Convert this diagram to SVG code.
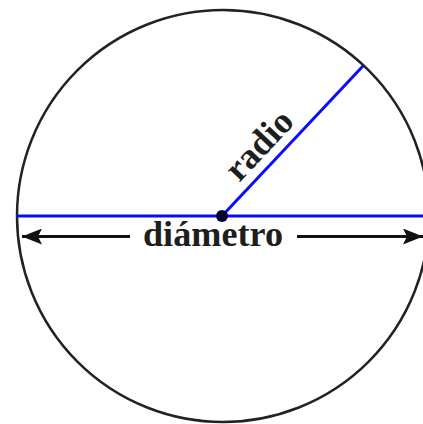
<svg xmlns="http://www.w3.org/2000/svg" width="423" height="424" viewBox="0 0 423 424">
<style>
.lbl{font-family:"Liberation Serif","Times New Roman",serif;font-weight:bold;font-size:35px;fill:#1e1e1e;}
.blue{stroke:#0a0aff;stroke-width:3;fill:none;}
.dim{stroke:#111;stroke-width:3;fill:none;}
</style>
<defs>
<marker id="ah" viewBox="0 0 20 16" refX="20" refY="8" markerWidth="20" markerHeight="16" markerUnits="userSpaceOnUse" orient="auto-start-reverse">
<path d="M0,0 L20,8 L0,16 L4,8 Z" fill="#111"/>
</marker>
</defs>
<rect width="423" height="424" fill="#fff"/>
<g id="circle">
<circle cx="223" cy="216" r="206" fill="none" stroke="#222" stroke-width="2.5"/>
</g>
<g id="connectors">
<line class="blue" x1="17" y1="216" x2="423" y2="216"/>
<line class="blue" x1="222" y1="216" x2="363" y2="66"/>
<line class="dim" x1="22" y1="236.5" x2="130" y2="236.5" marker-start="url(#ah)"/>
<line class="dim" x1="297" y1="236.5" x2="423" y2="236.5" marker-end="url(#ah)"/>
</g>
<g id="center">
<circle cx="222" cy="216" r="6" fill="#00002e"/>
</g>
<g id="diametro">
<text class="lbl" x="213" y="246" text-anchor="middle" textLength="140" lengthAdjust="spacingAndGlyphs">diámetro</text>
</g>
<g id="radio">
<text class="lbl" style="font-size:36px" text-anchor="middle" transform="translate(267.4,153.1) rotate(-46.8)">radio</text>
</g>
</svg>
